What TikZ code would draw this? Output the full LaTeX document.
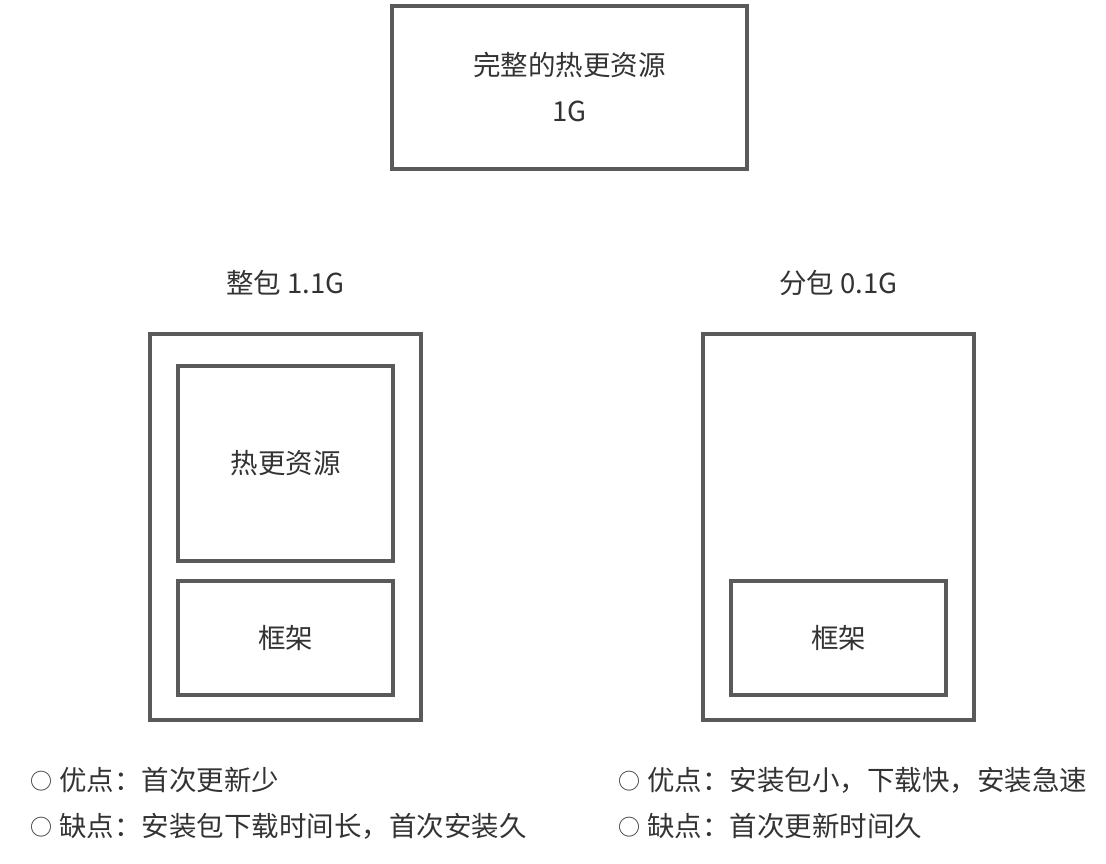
\documentclass[tikz,border=0pt]{standalone}
\usepackage{fontspec}
\setmainfont{Noto Sans CJK SC}
\usepackage{xcolor}
\usetikzlibrary{positioning}
\definecolor{frame}{HTML}{5A5A5A}
\definecolor{ink}{HTML}{333333}
\newcommand{\bulletmark}{\raisebox{1pt}{\fontsize{22}{24}\selectfont ○}\hspace{7pt}}

\begin{document}
\begin{tikzpicture}[
    x=1pt, y=-1pt,
    box/.style={rectangle, draw=frame, line width=3.5pt, inner sep=0pt,
                text=ink, align=center, font=\fontsize{27.5}{46}\selectfont},
    caption/.style={text=ink, inner sep=0pt, font=\fontsize{27.5}{30}\selectfont},
    note/.style={text=ink, inner sep=0pt, anchor=west, font=\fontsize{27.5}{30}\selectfont}
]
\useasboundingbox (0,0) rectangle (1106,864);

% complete resources
\node[box, minimum width=355pt, minimum height=163pt] (full) at (569.5,87.5)
    {完整的热更资源\\1G};

% whole package
\node[box, minimum width=271pt, minimum height=386pt] (whole) at (285.5,527) {};
\node[box, minimum width=215pt, minimum height=195pt] (wholeres) at (285.5,463.5) {热更资源};
\node[box, minimum width=215pt, minimum height=114pt] (wholefw) at (285.5,638) {框架};
\node[caption] (wholelab) at (285.5,283) {整包 1.1G};

% split package
\node[box, minimum width=271pt, minimum height=386pt] (split) at (838.5,527) {};
\node[box, minimum width=215pt, minimum height=114pt] (splitfw) at (838.5,638) {框架};
\node[caption] (splitlab) at (838.5,283) {分包 0.1G};

% pros and cons
\node[note] (wholepro) at (30,780) {\bulletmark 优点：首次更新少};
\node[note] (wholecon) at (30,826) {\bulletmark 缺点：安装包下载时间长，首次安装久};
\node[note] (splitpro) at (618,780) {\bulletmark 优点：安装包小，下载快，安装急速};
\node[note] (splitcon) at (618,826) {\bulletmark 缺点：首次更新时间久};

\end{tikzpicture}
\end{document}
